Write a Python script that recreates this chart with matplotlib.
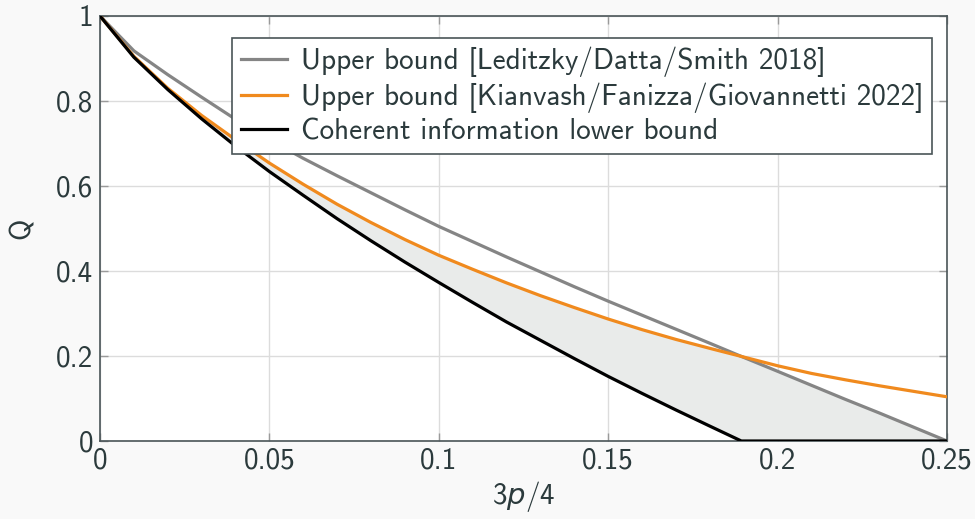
import numpy as np
import matplotlib
matplotlib.use("Agg")
import matplotlib.pyplot as plt

# ---- data ----
x_vals = [0.00, 0.01, 0.02, 0.03, 0.04, 0.05, 0.06, 0.07, 0.08, 0.09,
          0.10, 0.11, 0.12, 0.13, 0.14, 0.15, 0.16, 0.17, 0.18, 0.1893,
          0.20, 0.21, 0.22, 0.23, 0.24, 0.25]
upper_lds = [1.000, 0.918, 0.862, 0.809, 0.757, 0.709, 0.665, 0.624, 0.584, 0.544,
             0.505, 0.469, 0.433, 0.398, 0.363, 0.329, 0.296, 0.263, 0.230, 0.199,
             0.164, 0.131, 0.098, 0.066, 0.033, 0.000]
upper_kfg = [1.000, 0.905, 0.830, 0.766, 0.709, 0.654, 0.604, 0.557, 0.514, 0.474,
             0.437, 0.404, 0.372, 0.342, 0.314, 0.287, 0.262, 0.239, 0.218, 0.199,
             0.177, 0.159, 0.144, 0.130, 0.117, 0.104]
coherent = [1.000, 0.903, 0.827, 0.758, 0.694, 0.634, 0.578, 0.523, 0.471, 0.421,
            0.373, 0.326, 0.280, 0.237, 0.194, 0.152, 0.112, 0.073, 0.035, 0.000,
            0.000, 0.000, 0.000, 0.000, 0.000, 0.000]
labels = ["Upper bound [Leditzky/Datta/Smith 2018]",
          "Upper bound [Kianvash/Fanizza/Giovannetti 2022]",
          "Coherent information lower bound"]
xticks = [0, 0.05, 0.1, 0.15, 0.2, 0.25]
xticklabels = ["0", "0.05", "0.1", "0.15", "0.2", "0.25"]
yticks = [0, 0.2, 0.4, 0.6, 0.8, 1.0]
yticklabels = ["0", "0.2", "0.4", "0.6", "0.8", "1"]

# ---- style ----
txt = "#2b3a3c"
fs = 21
plt.rcParams["font.family"] = ["cmss10", "DejaVu Sans"]
plt.rcParams["mathtext.fontset"] = "custom"
plt.rcParams["mathtext.rm"] = "cmss10"
plt.rcParams["mathtext.it"] = "DejaVu Sans:italic"
plt.rcParams["axes.unicode_minus"] = False

fig = plt.figure(figsize=(9.75, 5.19), dpi=100, facecolor="#f9f9f9")
ax = fig.add_axes([100/975, 78/519, 847/975, 425/519])
ax.set_facecolor("white")

x = np.array(x_vals)
lds = np.array(upper_lds)
kfg = np.array(upper_kfg)
coh = np.array(coherent)

ax.fill_between(x, coh, np.minimum(lds, kfg), color="#e9ebea", lw=0, zorder=1)
l1, = ax.plot(x, lds, color="#858585", lw=2.3, zorder=3)
l2, = ax.plot(x, kfg, color="#f08a1e", lw=2.3, zorder=3)
l3, = ax.plot(x, coh, color="black", lw=2.3, zorder=4)

ax.set_xlim(0, 0.25)
ax.set_ylim(0, 1)
ax.set_xticks(xticks)
ax.set_xticklabels(xticklabels)
ax.set_yticks(yticks)
ax.set_yticklabels(yticklabels)
ax.grid(True, color="#dcdcdc", lw=1.0, zorder=0)
ax.set_axisbelow(True)
ax.tick_params(direction="in", length=6, width=1.0, color="#9a9a9a",
               top=True, right=True, labelsize=fs, labelcolor=txt, pad=5)
for s in ax.spines.values():
    s.set_color("#4a5558")
    s.set_linewidth(1.2)

ax.set_xlabel("3$p$/4", fontsize=fs, color=txt, labelpad=3)
ax.set_ylabel("Q", fontsize=fs, color=txt, labelpad=14)

leg = ax.legend([l1, l2, l3], labels, loc="upper right",
                bbox_to_anchor=(0.982, 0.948), borderaxespad=0,
                fontsize=fs, frameon=True, fancybox=False, framealpha=1,
                edgecolor="#4a5558", handlelength=1.6, handletextpad=0.45,
                labelspacing=0.18, borderpad=0.3)
leg.get_frame().set_linewidth(1.2)
for t in leg.get_texts():
    t.set_color(txt)

fig.savefig("out.png", dpi=100, facecolor=fig.get_facecolor())
